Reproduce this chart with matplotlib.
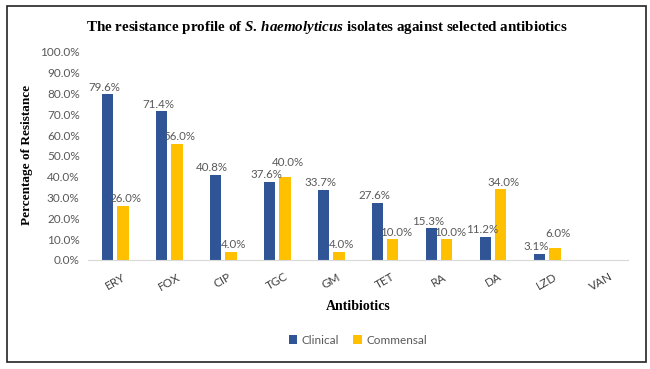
import numpy as np
import matplotlib
matplotlib.use("Agg")
import matplotlib.pyplot as plt
from matplotlib.patches import Rectangle

# Δεδομένα διαγράμματος
antibiotics = ["ERY", "FOX", "CIP", "TGC", "GM", "TET", "RA", "DA", "LZD", "VAN"]
clinical = [79.6, 71.4, 40.8, 37.6, 33.7, 27.6, 15.3, 11.2, 3.1, None]
commensal = [26.0, 56.0, 4.0, 40.0, 4.0, 10.0, 10.0, 34.0, 6.0, None]
y_ticks = [0, 10, 20, 30, 40, 50, 60, 70, 80, 90, 100]

BLUE = "#2F5597"
GOLD = "#FFC000"
GREY = "#595959"

plt.rcParams["mathtext.fontset"] = "custom"
plt.rcParams["mathtext.it"] = "Liberation Serif:italic:bold"
plt.rcParams["mathtext.rm"] = "Liberation Serif:bold"
plt.rcParams["mathtext.bf"] = "Liberation Serif:bold"

fig = plt.figure(figsize=(6.5, 3.69), dpi=100)
ax = fig.add_axes([88 / 650, 1 - 260 / 369, 540 / 650, 208 / 369])

x = np.arange(len(antibiotics))
width = 0.22
off = 0.14

cl = [v if v is not None else 0 for v in clinical]
co = [v if v is not None else 0 for v in commensal]
b1 = ax.bar(x - off, cl, width=width, color=BLUE, label="Clinical")
b2 = ax.bar(x + off, co, width=width, color=GOLD, label="Commensal")

# Ετικέτες τιμών πάνω από τις ράβδους
for i in range(len(antibiotics)):
    if clinical[i] is not None:
        ax.text(x[i] - off - 0.06, clinical[i] + 0.8, f"{clinical[i]:.1f}%", ha="center", va="bottom",
                fontsize=8.3, color=GREY, family="Lato")
    if commensal[i] is not None:
        lift = 0.8
        # όπως στο Excel: η ετικέτα ανεβαίνει όταν οι δύο τιμές είναι κοντά
        if clinical[i] is not None and abs(commensal[i] - clinical[i]) < 5:
            lift = 4.0
        ax.text(x[i] + off + 0.06, commensal[i] + lift, f"{commensal[i]:.1f}%", ha="center", va="bottom",
                fontsize=8.3, color=GREY, family="Lato")

ax.set_xlim(-0.5, len(antibiotics) - 0.5)
ax.set_ylim(0, 100)
ax.set_yticks(y_ticks)
ax.set_yticklabels([f"{t:.1f}%" for t in y_ticks], fontsize=8.5, color=GREY, family="Lato")
ax.set_xticks(x)
ax.set_xticklabels(antibiotics, rotation=30, fontsize=8.5, color="#404040", family="Lato",
                   ha="center")
ax.tick_params(axis="both", length=0, pad=6)
ax.tick_params(axis="x", pad=8)

for s in ["top", "right", "left"]:
    ax.spines[s].set_visible(False)
ax.spines["bottom"].set_color("#D9D9D9")

ax.set_xlabel("Antibiotics", fontsize=10, fontweight="bold", family="Liberation Serif", labelpad=5)
fig.text(27 / 650, 1 - 155 / 369, "Percentage of Resistance", rotation=90, ha="center", va="center",
         fontsize=9.5, fontweight="bold", family="Liberation Serif")

fig.text(327 / 650, 1 - 27 / 369,
         r"The resistance profile of $\mathit{S.}\,\mathit{haemolyticus}$ isolates against selected antibiotics",
         ha="center", va="center", fontsize=10.8, fontweight="bold", family="Liberation Serif")

fig.legend(handles=[b1, b2], loc="center", bbox_to_anchor=(358 / 650, 1 - 340 / 369), ncol=2,
           frameon=False, prop={"family": "Lato", "size": 8.5}, labelcolor=GREY,
           handlelength=0.7, handleheight=0.7, handletextpad=0.4, columnspacing=1.2)

fig.patches.append(Rectangle((7 / 650, 1 - 362 / 369), 639 / 650, 356 / 369, transform=fig.transFigure,
                             fill=False, edgecolor="#222222", linewidth=1.2))

fig.savefig("out.png", dpi=100)
